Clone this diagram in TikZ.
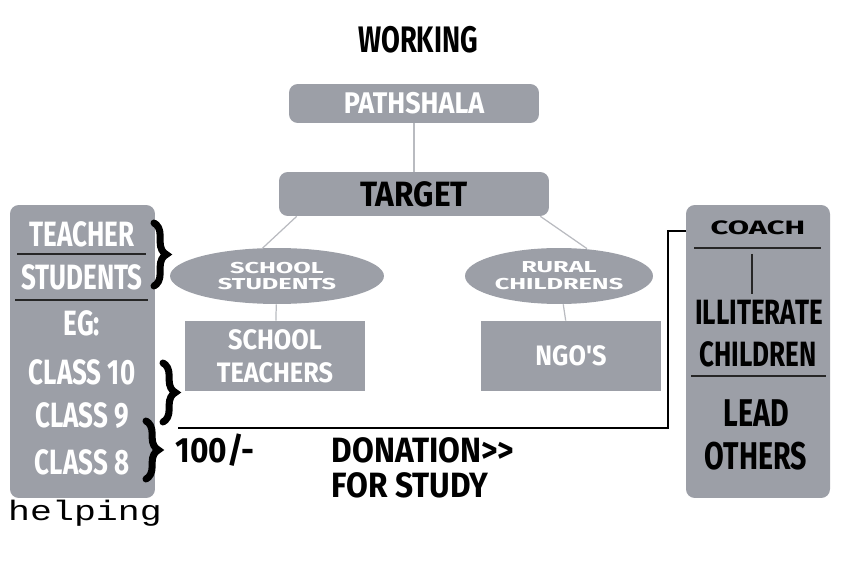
\documentclass[tikz,border=0pt]{standalone}
\usepackage{fontspec}
\usepackage{graphicx}
\newfontfamily\headfont[FakeStretch=0.74]{Fira Sans}
\newfontfamily\midfont[FakeStretch=0.9]{Fira Sans}
\newfontfamily\widefont[FakeStretch=1.6]{Fira Sans}
\newfontfamily\typefont{Liberation Mono}
\usetikzlibrary{positioning,shapes.geometric,decorations.pathreplacing}
\definecolor{boxgray}{RGB}{156,159,167}
\definecolor{linkgray}{RGB}{185,187,192}

\begin{document}
\begin{tikzpicture}[x=0.02cm, y=-0.02cm,
  rbox/.style={fill=boxgray, rounded corners=5pt, inner sep=0pt},
  flatbox/.style={fill=boxgray, inner sep=0pt, minimum width=3.6cm,
    minimum height=1.4cm, align=center, text=white,
    font=\midfont\bfseries\fontsize{16}{19}\selectfont},
  bubble/.style={ellipse, fill=boxgray, inner sep=0pt, minimum height=1.12cm,
    align=center, text=white, font=\widefont\bfseries\fontsize{9}{9.5}\selectfont},
  link/.style={draw=linkgray, line width=0.7pt},
  sep/.style={draw=black!85, line width=0.7pt},
  curly/.style={decorate, decoration={brace, amplitude=7pt}, line width=4pt,
    line cap=round},
  big/.style={font=\headfont\bfseries\fontsize{20}{22}\selectfont},
  wtxt/.style={big, text=white},
  btxt/.style={big, text=black},
  mtxt/.style={font=\midfont\bfseries\fontsize{20}{22}\selectfont, text=black},
]
  \useasboundingbox (0,0) rectangle (851,567);

  % title and top of the tree
  \node[btxt, font=\headfont\bfseries\fontsize{21}{22}\selectfont] (title) at (418,40) {WORKING};
  \node[rbox, minimum width=5cm, minimum height=0.78cm, text=white,
    font=\midfont\bfseries\fontsize{17}{18}\selectfont] (pathshala) at (414,103.5) {PATHSHALA};
  \node[rbox, minimum width=5.4cm, minimum height=0.88cm, text=black,
    font=\midfont\bfseries\fontsize{20}{20}\selectfont] (target) at (414,194) {TARGET};

  \node[bubble, minimum width=4.28cm] (school) at (277,276) {SCHOOL\\STUDENTS};
  \node[bubble, minimum width=3.76cm] (rural) at (559,276) {RURAL\\CHILDRENS};
  \node[flatbox] (teachers) at (275,356) {SCHOOL\\TEACHERS};
  \node[flatbox] (ngo) at (571,356) {NGO'S};

  \draw[link] (pathshala) -- (target);
  \draw[link] (target.south west) ++(18,0) coordinate (tl) (school.north) ++(-15,1) coordinate (sl) (tl) -- (sl);
  \draw[link] (target.south east) ++(-9,0) coordinate (tr) (rural.north) ++(28,1) coordinate (rl) (tr) -- (rl);
  \draw[link] (school) -- (teachers);
  \draw[link] (rural) -- (ngo);

  % left panel
  \node[rbox, minimum width=2.9cm, minimum height=5.86cm] (left) at (82.5,351.5) {};
  \node[wtxt] (teacher) at (82,234) {TEACHER};
  \node[wtxt] (students) at (82,277) {STUDENTS};
  \node[wtxt] (eg) at (82,323) {EG:};
  \node[wtxt] (class10) at (82,372) {CLASS 10};
  \node[wtxt] (class9) at (82,416) {CLASS 9};
  \node[wtxt] (class8) at (82,462) {CLASS 8};
  \draw[sep] (17,254) -- (146,254);
  \draw[sep] (15,300) -- (148,300);
  \node[font=\typefont\fontsize{16}{16}\selectfont] (helping) at (85,513) {\scalebox{1.3}[1]{helping}};

  % braces
  \draw[curly] (154,223) -- (154,286);
  \draw[curly] (163,363) -- (163,422);
  \draw[curly] (146,421) -- (146,479);

  % right panel
  \node[rbox, minimum width=2.88cm, minimum height=5.86cm] (right) at (758,351.5) {};
  \node[btxt, font=\widefont\bfseries\fontsize{11}{11}\selectfont] (coach) at (758,228) {COACH};
  \draw[sep] (694,248) -- (821,248);
  \node[btxt] (illiterate) at (759,312) {ILLITERATE};
  \node[btxt] (children) at (758,354) {CHILDREN};
  \draw[sep] (691,376) -- (826,376);
  \node[btxt, font=\headfont\bfseries\fontsize{22}{22}\selectfont] (lead) at (756,413) {LEAD};
  \node[btxt, font=\headfont\bfseries\fontsize{22}{22}\selectfont] (others) at (756,456) {OTHERS};
  \coordinate (coachsep) at (752,254);
  \draw[sep] (coachsep) -- (illiterate.north -| coachsep);

  % donation line
  \coordinate (donstart) at (178,428);
  \coordinate (coachin) at (686,231);
  \draw[black, line width=0.7pt] (donstart) -| (668,231) -- (coachin);
  \node[mtxt] (fee) at (215,450) {100/-};
  \node[mtxt] (donation) at (423,450) {DONATION>>};
  \node[mtxt] (study) at (410,485) {FOR STUDY};
\end{tikzpicture}
\end{document}
